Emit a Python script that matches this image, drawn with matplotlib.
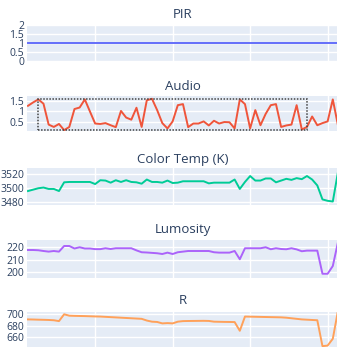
import numpy as np
import matplotlib.pyplot as plt
from matplotlib.patches import Rectangle

plt.rcParams['font.family'] = ['Open Sans', 'DejaVu Sans']

# échantillons (index) et séries
sample = np.arange(61)

pir = [1.0] * 61

audio = [1.26, 1.42, 1.56, 1.36, 0.38, 0.27, 0.41, 0.12, 0.27, 1.11,
         1.18, 1.56, 0.99, 0.43, 0.41, 0.45, 0.35, 0.26, 1.02, 0.71,
         0.61, 1.17, 0.27, 1.52, 1.59, 1.06, 0.45, 0.20, 0.53, 1.29,
         1.34, 0.26, 0.43, 0.43, 0.53, 0.34, 0.56, 0.43, 0.50, 0.49,
         0.20, 1.56, 1.34, 0.20, 1.06, 0.35, 0.88, 1.29, 1.34, 0.27,
         0.34, 0.38, 1.29, 0.15, 0.27, 0.76, 0.35, 0.45, 0.53, 1.56,
         0.35]

color_temp = [3495, 3497, 3499, 3500, 3498, 3498, 3495, 3507.5, 3508, 3508,
              3508, 3508, 3508, 3505, 3510.5, 3510, 3507, 3510.5, 3508, 3510.5,
              3508, 3507.5, 3505.5, 3511.5, 3508, 3508, 3507, 3510, 3506.5, 3507,
              3509, 3509, 3509, 3509, 3509, 3506, 3507, 3507, 3507, 3507,
              3511.5, 3498, 3508, 3516.5, 3510, 3510, 3513, 3513, 3507.5, 3510,
              3512.5, 3511, 3513.5, 3512, 3516.5, 3511.5, 3503, 3483, 3481, 3480,
              3522]

lumosity = [217.8, 217.8, 217.6, 217.0, 216.5, 217.0, 216.5, 221.0, 221.0, 219.0,
            220.0, 219.0, 219.0, 218.5, 218.5, 219.2, 218.6, 219.2, 219.2, 219.2,
            219.2, 217.5, 216.0, 215.8, 215.5, 215.2, 214.6, 215.7, 214.6, 216.0,
            216.5, 217.0, 217.0, 217.0, 217.0, 217.0, 216.0, 215.7, 215.7, 215.7,
            217.0, 210.4, 219.2, 219.2, 219.2, 219.2, 220.0, 218.4, 219.2, 218.6,
            218.4, 219.2, 218.3, 216.8, 217.3, 217.3, 217.3, 198.8, 198.8, 205.0,
            224.0]

r_vals = [691, 690.8, 690.5, 690.3, 690, 689.5, 688, 700, 697.5, 697.2,
          697, 696.8, 696.5, 696.2, 696, 695.5, 695, 694.5, 694, 693.5,
          693, 692.5, 692, 689, 687, 686.5, 684, 684.5, 684, 687,
          688, 688.2, 688.3, 688.4, 688.5, 688.3, 687, 686.8, 686.6, 686.5,
          686.3, 671, 696, 695.8, 695.6, 695.4, 695.2, 695, 694.8, 694.6,
          694, 693, 692, 691, 690.5, 690, 689.5, 644, 645, 657,
          706]

titles = ['PIR', 'Audio', 'Color Temp (K)', 'Lumosity', 'R']
series = [pir, audio, color_temp, lumosity, r_vals]
colors = ['#636EFA', '#EF553B', '#00CC96', '#AB63FA', '#FFA15A']
y_ticks = [[0, 0.5, 1, 1.5, 2], [0.5, 1, 1.5], [3480, 3500, 3520],
           [200, 210, 220], [660, 680, 700]]
y_labels = [['0', '0.5', '1', '1.5', '2'], ['0.5', '1', '1.5'],
            ['3480', '3500', '3520'], ['200', '210', '220'], ['660', '680', '700']]
y_lims = [(0, 2), (0.08, 1.72), (3475, 3528), (195.4, 225.8), (639, 704)]

# position des panneaux en pixels (haut, bas) et des titres
W, H = 337, 347
panel_px = [(25, 61), (96, 131), (168, 205), (240, 278), (312, 349)]
title_y = [15, 87, 159.5, 229.5, 300.5]

fig = plt.figure(figsize=(W / 100, H / 100), dpi=100)

for i in range(5):
    top, bottom = panel_px[i]
    ax = fig.add_axes([27 / W, 1 - bottom / H, 312 / W, (bottom - top) / H])
    ax.set_facecolor('#E5ECF6')
    for s in ax.spines.values():
        s.set_visible(False)
    ax.plot(sample, series[i], color=colors[i], lw=1.4, zorder=2)
    ax.set_xlim(-0.19, 60.2)
    ax.set_ylim(*y_lims[i])
    ax.set_xticks([13, 28, 43, 58])
    ax.set_xticklabels([])
    ax.set_yticks(y_ticks[i])
    ax.set_yticklabels(y_labels[i])
    ax.grid(True, color='white', lw=1)
    ax.set_axisbelow(True)
    ax.tick_params(length=0, pad=2, labelsize=7.5, labelcolor='#2a3f5f')
    fig.text(183 / W, 1 - title_y[i] / H, titles[i], ha='center', va='center',
             fontsize=9.5, color='#2a3f5f')
    if titles[i] == 'Audio':
        ax.add_patch(Rectangle((2, 0.13), 52, 1.45, fill=False, ec='#444444',
                               lw=1.1, ls=(0, (1, 1)), zorder=3))

fig.savefig('out.png', dpi=100)
